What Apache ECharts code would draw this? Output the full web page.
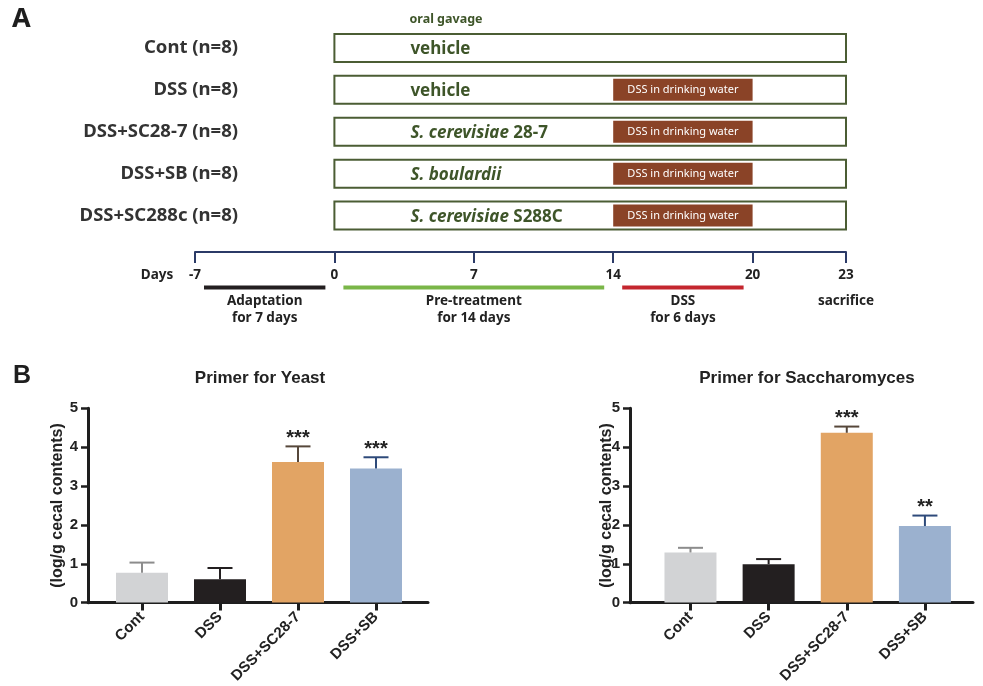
<!DOCTYPE html>
<html><head><meta charset="utf-8">
<script src="https://cdn.jsdelivr.net/npm/echarts@6/dist/echarts.min.js"></script>
<style>html,body{margin:0;padding:0;background:#fff}#c{width:983px;height:686px}</style>
</head><body><div id="c"></div>
<script>
// ---------- Panel A data ----------
const groupLabels = ['Cont (n=8)', 'DSS (n=8)', 'DSS+SC28-7 (n=8)', 'DSS+SB (n=8)', 'DSS+SC288c (n=8)'];
const treatmentItalic = ['', '', 'S. cerevisiae', 'S. boulardii', 'S. cerevisiae'];
const treatmentPlain = ['vehicle', 'vehicle', ' 28-7', '', ' S288C'];
const receivesDSS = [false, true, true, true, true];
const gavageDays = [0, 23];
const dssDays = [14, 20];
const timelineDays = [-7, 0, 7, 14, 20, 23];
const timelineSpacing = [1, 1, 1, 1, 0.67]; // schematic spacing between milestones
const phaseNames = ['Adaptation\nfor 7 days', 'Pre-treatment\nfor 14 days', 'DSS\nfor 6 days'];
const phaseStart = [-7, 0, 14];
const phaseEnd = [0, 14, 20];
const eventDays = [23];
const eventNames = ['sacrifice'];

// ---------- Panel B data ----------
const barCategories = ['Cont', 'DSS', 'DSS+SC28-7', 'DSS+SB'];
const yeastMean = [0.77, 0.60, 3.62, 3.45];
const yeastSem = [0.26, 0.29, 0.40, 0.29];
const yeastSig = ['', '', '***', '***'];
const saccMean = [1.29, 0.99, 4.37, 1.97];
const saccSem = [0.12, 0.13, 0.16, 0.27];
const saccSig = ['', '', '***', '**'];
const yAxisTitle = '(log/g cecal contents)';

// ---------- styles ----------
const FA = "'Noto Sans', 'Open Sans', sans-serif";
const FB = "'Liberation Sans', Arial, sans-serif";
const green = '#3e5529';
const boxStroke = '#4b5d34';
const dssFill = '#8a4327';
const navy = '#2b3a67';
const phaseColors = ['#231f20', '#7ab648', '#c4262e'];
const barColors = ['#d2d3d5', '#231f20', '#e2a464', '#9bb1cf'];
const errColors = ['#8c8c8c', '#231f20', '#56473a', '#2e4a7a'];

// schematic timeline scale
const milestoneSlots = timelineSpacing.reduce((a, s) => { a.push(a[a.length - 1] + s); return a; }, [0]);
const slotMax = milestoneSlots[milestoneSlots.length - 1];
function daySlot(d) {
  for (let i = 0; i < timelineDays.length - 1; i++) {
    if (d <= timelineDays[i + 1]) {
      const t = (d - timelineDays[i]) / (timelineDays[i + 1] - timelineDays[i]);
      return milestoneSlots[i] + t * (milestoneSlots[i + 1] - milestoneSlots[i]);
    }
  }
  return slotMax;
}
function slotLabel(v) {
  let best = 0;
  milestoneSlots.forEach((s, i) => { if (Math.abs(s - v) < Math.abs(milestoneSlots[best] - v)) best = i; });
  return String(timelineDays[best]);
}

const chart = echarts.init(document.getElementById('c'), null, { renderer: 'canvas' });

const barTop = 408.3, barH = 194.4;

function valueAxisY(gridIndex, showAxis) {
  return {
    type: 'value', gridIndex: gridIndex, min: 0, max: 5, interval: 1, show: showAxis,
    axisLine: { show: true, lineStyle: { color: '#1e1e1e', width: 3 } },
    axisTick: { show: true, length: 7, lineStyle: { color: '#1e1e1e', width: 2.5 } },
    axisLabel: { show: true, margin: 10, color: '#222', fontFamily: FB, fontWeight: 'bold', fontSize: 15 },
    splitLine: { show: false }
  };
}
function lineAxisX(gridIndex) {
  return {
    type: 'value', gridIndex: gridIndex, min: 0, max: 1,
    axisLine: { show: true, lineStyle: { color: '#1e1e1e', width: 3 } },
    axisTick: { show: false }, axisLabel: { show: false }, splitLine: { show: false }
  };
}
function catAxisX(gridIndex) {
  return {
    type: 'category', gridIndex: gridIndex, data: barCategories,
    axisLine: { show: false },
    axisTick: { show: true, alignWithLabel: true, length: 8, lineStyle: { color: '#1e1e1e', width: 3 } },
    axisLabel: { rotate: 45, margin: 12, color: '#222', fontFamily: FB, fontWeight: 'bold', fontSize: 15, interval: 0 },
    splitLine: { show: false }
  };
}
function errSeries(axisIdx, mean, sem, sig) {
  return {
    type: 'custom', xAxisIndex: axisIdx, yAxisIndex: axisIdx, z: 5,
    data: mean.map((m, i) => [i, m, m + sem[i]]),
    renderItem: function (params, api) {
      const i = params.dataIndex;
      const b = api.coord([api.value(0), api.value(1)]);
      const t = api.coord([api.value(0), api.value(2)]);
      const c = errColors[i];
      return {
        type: 'group', children: [
          { type: 'line', shape: { x1: b[0], y1: b[1], x2: t[0], y2: t[1] }, style: { stroke: c, lineWidth: 2 } },
          { type: 'line', shape: { x1: t[0] - 12.5, y1: t[1], x2: t[0] + 12.5, y2: t[1] }, style: { stroke: c, lineWidth: 2 } },
          { type: 'text', x: t[0], y: t[1] + 2, style: { text: sig[i], align: 'center', verticalAlign: 'bottom', fill: '#222', font: 'bold 20px ' + FB } }
        ]
      };
    }
  };
}

const option = {
  animation: false,
  backgroundColor: '#fff',
  grid: [
    { left: 195, width: 651, top: 27, height: 209.5 },
    { left: 195, width: 651, top: 252, height: 70 },
    { left: 88, width: 340, top: barTop, height: barH },
    { left: 103, width: 312, top: barTop, height: barH },
    { left: 630, width: 343, top: barTop, height: barH },
    { left: 651.4, width: 312.6, top: barTop, height: barH }
  ],
  xAxis: [
    { type: 'value', gridIndex: 0, min: 0, max: slotMax, show: false },
    {
      type: 'value', gridIndex: 1, min: 0, max: slotMax, position: 'top',
      axisLine: { show: true, lineStyle: { color: navy, width: 2 } },
      axisTick: { show: true, inside: true, length: 11, customValues: milestoneSlots, lineStyle: { color: navy, width: 2 } },
      axisLabel: { show: true, inside: true, margin: 16, customValues: milestoneSlots, formatter: slotLabel,
        color: '#222', fontFamily: FA, fontWeight: 'bold', fontSize: 13.5, verticalAlign: 'top' },
      splitLine: { show: false }
    },
    lineAxisX(2), catAxisX(3), lineAxisX(4), catAxisX(5)
  ],
  yAxis: [
    {
      type: 'category', gridIndex: 0, data: groupLabels, inverse: true, offset: -43,
      axisLine: { show: false }, axisTick: { show: false }, splitLine: { show: false },
      axisLabel: { margin: 0, color: '#333', fontFamily: FA, fontWeight: 'bold', fontSize: 18.5, padding: [4, 0, 0, 0] }
    },
    { type: 'value', gridIndex: 1, min: 0, max: 1, inverse: true, show: false },
    valueAxisY(2, true), valueAxisY(3, false), valueAxisY(4, true), valueAxisY(5, false)
  ],
  series: [
    // gavage boxes
    {
      type: 'custom', xAxisIndex: 0, yAxisIndex: 0, z: 2,
      data: groupLabels.map((g, i) => [daySlot(gavageDays[0]), daySlot(gavageDays[1]), i]),
      renderItem: function (params, api) {
        const i = params.dataIndex;
        const a = api.coord([api.value(0), api.value(2)]);
        const b = api.coord([api.value(1), api.value(2)]);
        const h = 28;
        let txt = '';
        if (treatmentItalic[i]) txt += '{i|' + treatmentItalic[i] + '}';
        if (treatmentPlain[i]) txt += '{n|' + treatmentPlain[i] + '}';
        return {
          type: 'group', children: [
            { type: 'rect', shape: { x: a[0], y: a[1] - h / 2, width: b[0] - a[0], height: h }, style: { fill: '#fff', stroke: boxStroke, lineWidth: 2 } },
            { type: 'text', x: a[0] + 76, y: a[1] + 1.5, style: { text: txt, align: 'left', verticalAlign: 'middle',
              rich: {
                i: { fontFamily: FA, fontWeight: 'bold', fontStyle: 'italic', fontSize: 17, fill: green, color: green },
                n: { fontFamily: FA, fontWeight: 'bold', fontSize: 17, fill: green, color: green }
              } } }
          ]
        };
      }
    },
    // DSS in drinking water boxes
    {
      type: 'custom', xAxisIndex: 0, yAxisIndex: 0, z: 3,
      data: groupLabels.map((g, i) => receivesDSS[i] ? [daySlot(dssDays[0]), daySlot(dssDays[1]), i] : null).filter(d => d),
      renderItem: function (params, api) {
        const a = api.coord([api.value(0), api.value(2)]);
        const b = api.coord([api.value(1), api.value(2)]);
        const h = 22;
        return {
          type: 'group', children: [
            { type: 'rect', shape: { x: a[0], y: a[1] - h / 2, width: b[0] - a[0], height: h }, style: { fill: dssFill } },
            { type: 'text', x: (a[0] + b[0]) / 2, y: a[1] + 0.5, style: { text: 'DSS in drinking water', align: 'center', verticalAlign: 'middle', fill: '#fff', font: '11px ' + FA } }
          ]
        };
      }
    },
    // phases
    {
      type: 'custom', xAxisIndex: 1, yAxisIndex: 1, clip: false,
      data: phaseNames.map((p, i) => [daySlot(phaseStart[i]), daySlot(phaseEnd[i])]),
      renderItem: function (params, api) {
        const i = params.dataIndex;
        const a = api.coord([api.value(0), 0]);
        const b = api.coord([api.value(1), 0]);
        return {
          type: 'group', children: [
            { type: 'line', shape: { x1: a[0] + 9, y1: a[1] + 35.5, x2: b[0] - 9, y2: a[1] + 35.5 }, style: { stroke: phaseColors[i], lineWidth: 4 } },
            { type: 'text', x: (a[0] + b[0]) / 2, y: a[1] + 41, style: { text: phaseNames[i], align: 'center', verticalAlign: 'top', fill: '#222', font: 'bold 13.5px ' + FA, lineHeight: 17 } }
          ]
        };
      }
    },
    // events
    {
      type: 'custom', xAxisIndex: 1, yAxisIndex: 1, clip: false,
      data: eventDays.map(d => [daySlot(d)]),
      renderItem: function (params, api) {
        const a = api.coord([api.value(0), 0]);
        return { type: 'text', x: a[0], y: a[1] + 41, style: { text: eventNames[params.dataIndex], align: 'center', verticalAlign: 'top', fill: '#222', font: 'bold 13.5px ' + FA, lineHeight: 17 } };
      }
    },
    // Panel B bars
    { type: 'bar', xAxisIndex: 3, yAxisIndex: 3, barWidth: 52, z: 3,
      data: yeastMean.map((v, i) => ({ value: v, itemStyle: { color: barColors[i] } })) },
    errSeries(3, yeastMean, yeastSem, yeastSig),
    { type: 'bar', xAxisIndex: 5, yAxisIndex: 5, barWidth: 52, z: 3,
      data: saccMean.map((v, i) => ({ value: v, itemStyle: { color: barColors[i] } })) },
    errSeries(5, saccMean, saccSem, saccSig)
  ],
  graphic: [
    { type: 'text', left: 12, top: 6, style: { text: 'A', font: 'bold 27px ' + FA, fill: '#1e1e1e' } },
    { type: 'text', x: 446, y: 19, style: { text: 'oral gavage', align: 'center', verticalAlign: 'middle', font: 'bold 12.5px ' + FA, fill: green } },
    { type: 'text', x: 157, y: 275, style: { text: 'Days', align: 'center', verticalAlign: 'middle', font: 'bold 13.5px ' + FA, fill: '#222' } },
    { type: 'text', left: 13, top: 364, style: { text: 'B', font: 'bold 25px ' + FB, fill: '#1e1e1e' } },
    { type: 'text', x: 260, y: 378, style: { text: 'Primer for Yeast', align: 'center', verticalAlign: 'middle', font: 'bold 17px ' + FB, fill: '#222' } },
    { type: 'text', x: 807, y: 378, style: { text: 'Primer for Saccharomyces', align: 'center', verticalAlign: 'middle', font: 'bold 17px ' + FB, fill: '#222' } },
    { type: 'text', x: 57.5, y: 505.5, rotation: Math.PI / 2, style: { text: yAxisTitle, align: 'center', verticalAlign: 'middle', font: 'bold 16px ' + FB, fill: '#222' } },
    { type: 'text', x: 606.5, y: 505.5, rotation: Math.PI / 2, style: { text: yAxisTitle, align: 'center', verticalAlign: 'middle', font: 'bold 16px ' + FB, fill: '#222' } }
  ]
};
chart.setOption(option);
</script>
</body></html>
